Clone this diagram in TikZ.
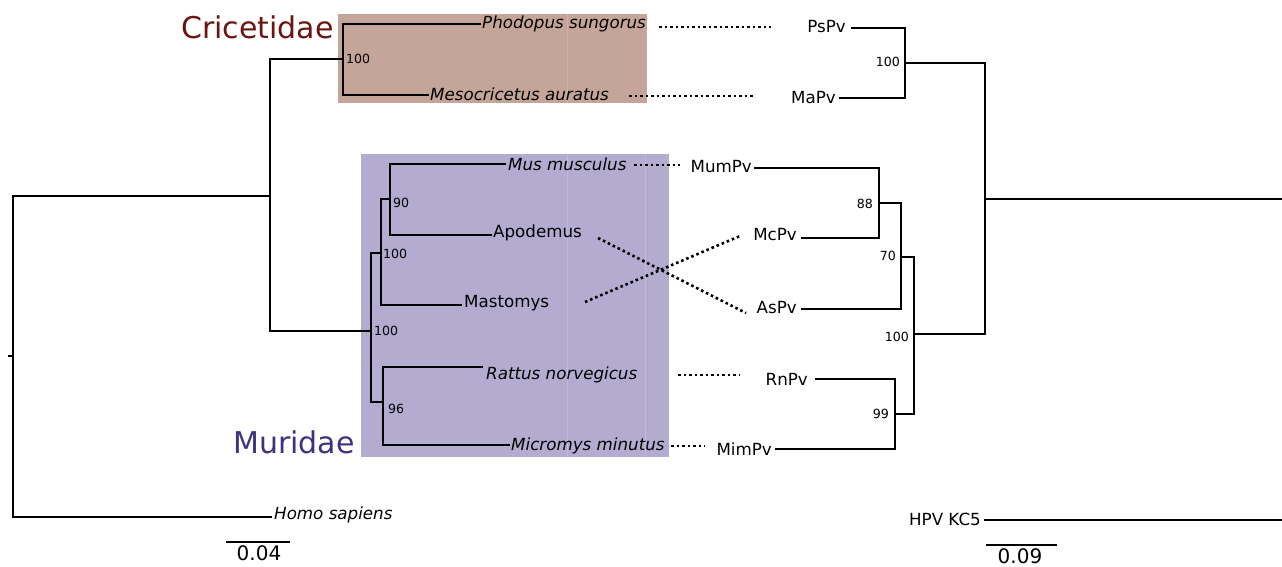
\documentclass[tikz,border=0pt]{standalone}
\usepackage{fontspec}
\setmainfont{DejaVu Sans}
\definecolor{cricbox}{RGB}{196,165,152}
\definecolor{murbox}{RGB}{179,172,208}
\definecolor{crictext}{RGB}{106,22,16}
\definecolor{murtext}{RGB}{64,48,128}
\begin{document}
\begin{tikzpicture}[x=1pt,y=-1pt,
  branch/.style={line width=2.2pt, black},
  dotline/.style={line width=2.6pt, dash pattern=on 2.6pt off 2.9pt, black},
  taxon/.style={inner sep=0pt, font=\fontsize{16.7}{20}\selectfont\itshape},
  virus/.style={inner sep=0pt, font=\fontsize{16.7}{20}\selectfont},
  boot/.style={inner sep=0pt, font=\fontsize{12.6}{15}\selectfont},
  family/.style={inner sep=0pt, font=\fontsize{30}{36}\selectfont},
  scalelbl/.style={inner sep=0pt, font=\fontsize{20}{24}\selectfont},
  faint/.style={white, opacity=0.18, line width=1pt}]
\useasboundingbox (0,0) rectangle (1282,567);
% clade boxes
\fill[cricbox] (338,14) rectangle (647,103);
\fill[murbox] (361,154) rectangle (669,457);
\draw[faint] (567,14) -- (567,103);
\draw[faint] (567,154) -- (567,457);
\draw[faint] (645,154) -- (645,457);
% family labels
\node[family, text=crictext, anchor=west] (cricl) at (181,27) {Cricetidae};
\node[family, text=murtext, anchor=west] (murl) at (233,442) {Muridae};
% host tree nodes
\coordinate (rootstub) at (8,356);
\coordinate (root) at (13,356);
\coordinate (rodent) at (270,196);
\coordinate (cric) at (343,59);
\coordinate (mur) at (371,331);
\coordinate (mmA) at (381,253);
\coordinate (mmB) at (390,199);
\coordinate (rat) at (383,402);
% host tips
\coordinate (phodTip) at (481,24);
\coordinate (mesoTip) at (429,95);
\coordinate (musTip) at (506,164);
\coordinate (apoTip) at (492,235);
\coordinate (mastTip) at (462,305);
\coordinate (ratTip) at (483,367);
\coordinate (micTip) at (510,445);
\coordinate (homoTip) at (272,517);
% host labels
\node[taxon, anchor=west] (phod) at (482,24) {Phodopus sungorus};
\node[taxon, anchor=west] (meso) at (430,94) {Mesocricetus auratus};
\node[taxon, anchor=west] (mus) at (508,164) {Mus musculus};
\node[virus, anchor=west] (apo) at (493,233) {Apodemus};
\node[virus, anchor=west] (mast) at (464,303) {Mastomys};
\node[taxon, anchor=west] (ratn) at (486,375) {Rattus norvegicus};
\node[taxon, anchor=west] (mic) at (511,446) {Micromys minutus};
\node[taxon, anchor=west] (homo) at (274,515) {Homo sapiens};
% host branches
\draw[branch] (rootstub) -- (root);
\draw[branch] (root) |- (rodent);
\draw[branch] (root) |- (homoTip);
\draw[branch] (rodent) |- (cric);
\draw[branch] (rodent) |- (mur);
\draw[branch] (cric) |- (phodTip);
\draw[branch] (cric) |- (mesoTip);
\draw[branch] (mur) |- (mmA);
\draw[branch] (mur) |- (rat);
\draw[branch] (mmA) |- (mmB);
\draw[branch] (mmA) |- (mastTip);
\draw[branch] (mmB) |- (musTip);
\draw[branch] (mmB) |- (apoTip);
\draw[branch] (rat) |- (ratTip);
\draw[branch] (rat) |- (micTip);
% host bootstraps
\node[boot, anchor=west] (b1) at (346,59) {100};
\node[boot, anchor=west] (b2) at (393,203) {90};
\node[boot, anchor=west] (b3) at (383,254) {100};
\node[boot, anchor=west] (b4) at (374,331) {100};
\node[boot, anchor=west] (b5) at (388,409) {96};
% virus tree nodes
\coordinate (vroot) at (985,199);
\coordinate (vrootEnd) at (1282,199);
\coordinate (psma) at (905,63);
\coordinate (v100) at (914,334);
\coordinate (v70) at (901,257);
\coordinate (v88) at (879,203);
\coordinate (v99) at (895,414);
% virus tips
\coordinate (psTip) at (851,28);
\coordinate (maTip) at (839,98);
\coordinate (mumTip) at (754,168);
\coordinate (mcTip) at (801,238);
\coordinate (asTip) at (801,309);
\coordinate (rnTip) at (815,379);
\coordinate (mimTip) at (775,449);
\coordinate (hpvTip) at (984,520);
\coordinate (hpvEnd) at (1282,520);
% virus labels
\node[virus, anchor=east] (ps) at (846,27) {PsPv};
\node[virus, anchor=east] (ma) at (836,98) {MaPv};
\node[virus, anchor=east] (mum) at (752,167) {MumPv};
\node[virus, anchor=east] (mc) at (797,235) {McPv};
\node[virus, anchor=east] (as) at (797,308) {AsPv};
\node[virus, anchor=east] (rn) at (808,379) {RnPv};
\node[virus, anchor=east] (mim) at (772,449) {MimPv};
\node[virus, anchor=east] (hpv) at (981,519) {HPV KC5};
% virus branches
\draw[branch] (vroot) -- (vrootEnd);
\draw[branch] (vroot) |- (psma);
\draw[branch] (vroot) |- (v100);
\draw[branch] (psma) |- (psTip);
\draw[branch] (psma) |- (maTip);
\draw[branch] (v100) |- (v70);
\draw[branch] (v100) |- (v99);
\draw[branch] (v70) |- (v88);
\draw[branch] (v70) |- (asTip);
\draw[branch] (v88) |- (mumTip);
\draw[branch] (v88) |- (mcTip);
\draw[branch] (v99) |- (rnTip);
\draw[branch] (v99) |- (mimTip);
\draw[branch] (hpvTip) -- (hpvEnd);
% virus bootstraps
\node[boot, anchor=east] (c1) at (900,62) {100};
\node[boot, anchor=east] (c2) at (873,204) {88};
\node[boot, anchor=east] (c3) at (896,256) {70};
\node[boot, anchor=east] (c4) at (909,337) {100};
\node[boot, anchor=east] (c5) at (889,414) {99};
% association dotted lines
\coordinate (d1a) at (659,27);  \coordinate (d1b) at (771,27);
\coordinate (d2a) at (629,96);  \coordinate (d2b) at (753,96);
\coordinate (d3a) at (634,165); \coordinate (d3b) at (680,165);
\coordinate (d4a) at (598,238); \coordinate (d4b) at (746,313);
\coordinate (d5a) at (585,302); \coordinate (d5b) at (740,236);
\coordinate (d6a) at (678,375); \coordinate (d6b) at (740,375);
\coordinate (d7a) at (671,446); \coordinate (d7b) at (705,446);
\draw[dotline] (d1a) -- (d1b);
\draw[dotline] (d2a) -- (d2b);
\draw[dotline] (d3a) -- (d3b);
\draw[dotline] (d4a) -- (d4b);
\draw[dotline] (d5a) -- (d5b);
\draw[dotline] (d6a) -- (d6b);
\draw[dotline] (d7a) -- (d7b);
% scale bars
\coordinate (s1a) at (226,542); \coordinate (s1b) at (290,542);
\draw[branch] (s1a) -- (s1b);
\node[scalelbl] (s1) at (259,553) {0.04};
\coordinate (s2a) at (986,545); \coordinate (s2b) at (1057,545);
\draw[branch] (s2a) -- (s2b);
\node[scalelbl] (s2) at (1020,556.5) {0.09};
\end{tikzpicture}
\end{document}
